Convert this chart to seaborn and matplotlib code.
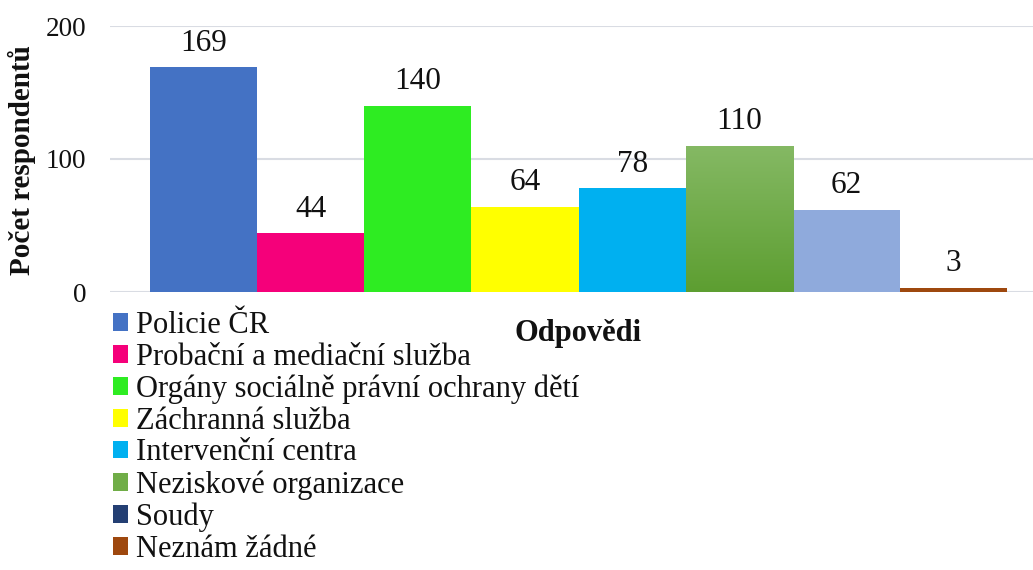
import matplotlib
matplotlib.use("Agg")
import matplotlib.pyplot as plt
import seaborn as sns
import numpy as np
import pandas as pd
from matplotlib.patches import Patch
from matplotlib.colors import LinearSegmentedColormap

categories = ["Policie ČR", "Probační a mediační služba", "Orgány sociálně právní ochrany dětí",
              "Záchranná služba", "Intervenční centra", "Neziskové organizace", "Soudy", "Neznám žádné"]
values = [169, 44, 140, 64, 78, 110, 62, 3]
bar_colors = ["#4472C4", "#F5007A", "#2EEC22", "#FFFF00", "#00B0F0", "#70AD47", "#8FAADC", "#9E480E"]
legend_colors = ["#4472C4", "#F5007A", "#2EEC22", "#FFFF00", "#00B0F0", "#70AD47", "#243F73", "#9E480E"]
y_ticks = [0, 100, 200]

sns.set_theme(style="white")
plt.rcParams["font.family"] = ["Liberation Serif", "DejaVu Serif"]

fig = plt.figure(figsize=(10.33, 5.70), dpi=100)
ax = fig.add_axes([110/1033, 1-292/570, 1-110/1033, (292-26)/570])

df = pd.DataFrame({"cat": categories, "val": values})
sns.barplot(data=df, x="cat", y="val", hue="cat", palette=dict(zip(categories, bar_colors)),
            dodge=False, width=1.0, legend=False, ax=ax, saturation=1, linewidth=0)

ax.set_ylim(0, 200)
ax.set_xlim(-0.5 - 40/107.1, 7.5 + 26/107.1)
ax.set_yticks(y_ticks)
ax.set_xticks([])
ax.set_xlabel("")
ax.set_ylabel("")
ax.tick_params(axis="y", length=0, pad=17, labelsize=19.5, labelcolor="#111111")
for s in ax.spines.values():
    s.set_visible(False)
ax.grid(axis="y", color="#D9DCE3", linewidth=1.5)
ax.set_axisbelow(True)

# gradient for the green non-profit bar
for p in ax.patches:
    x0, y0 = p.get_x(), p.get_y()
    w, h = p.get_width(), p.get_height()
    if abs(h - values[5]) < 1e-6 and abs(x0 - 4.5) < 1e-6:
        cmap = LinearSegmentedColormap.from_list("g", ["#5D9E31", "#85B964"])
        grad = np.linspace(0, 1, 256).reshape(-1, 1)
        im = ax.imshow(grad, extent=[x0, x0 + w, y0, y0 + h], origin="lower",
                       cmap=cmap, aspect="auto", zorder=p.get_zorder())
        im.set_clip_path(p)
        p.set_facecolor("none")

for c in ax.containers:
    ax.bar_label(c, padding=7, fontsize=22.5, color="#111111")

fig.text(22/1033, 1-160/570, "Počet respondentů", rotation=90, fontsize=21,
         fontweight="bold", ha="center", va="center", color="#111111")
fig.text(578/1033, 1-333/570, "Odpovědi", fontsize=22, fontweight="bold",
         ha="center", va="center", color="#111111")

handles = [Patch(facecolor=c, edgecolor="none") for c in legend_colors]
fig.legend(handles, categories, loc="upper left", bbox_to_anchor=(113/1033, 1-311/570),
           frameon=False, fontsize=22, borderaxespad=0, borderpad=0, labelspacing=0.09,
           handlelength=0.5, handleheight=0.5, handletextpad=0.25, labelcolor="#111111")

fig.savefig("out.png", dpi=100)
